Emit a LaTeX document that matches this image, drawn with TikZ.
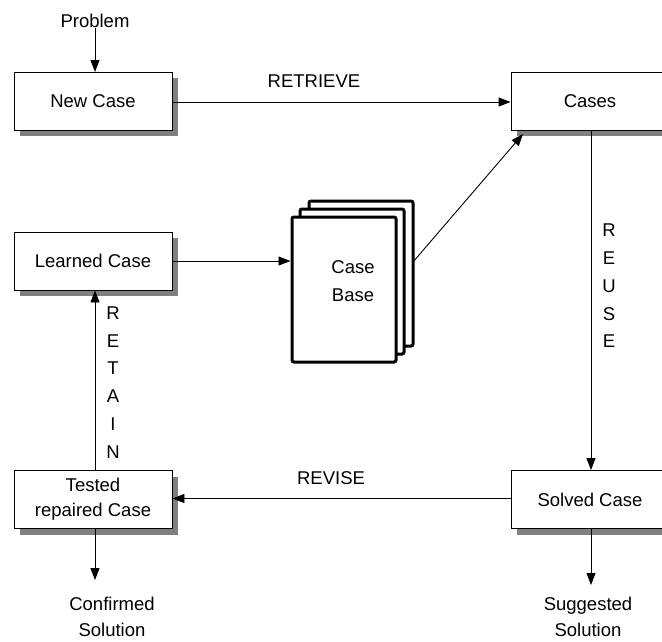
\documentclass[tikz,border=0pt]{standalone}
\usepackage{fontspec}
\setmainfont{Liberation Sans}
\usetikzlibrary{arrows.meta}
\tikzset{
  lbl/.style={font=\fontsize{18.5}{25}\selectfont, inner sep=0pt, align=center},
  casebox/.style={draw, line width=0.9pt, fill=white, minimum width=158pt, minimum height=58pt,
    inner sep=0pt, align=center, font=\fontsize{18.5}{25}\selectfont},
  boxshadow/.style={fill=black!50, draw=none},
  sheet/.style={draw, line width=3pt, fill=white, rounded corners=2pt},
  flow/.style={line width=0.9pt, -{Triangle[length=12pt,width=9pt]}},
  vletters/.style={font=\fontsize{18.5}{27.8}\selectfont, inner sep=0pt, align=center}
}
\begin{document}
\begin{tikzpicture}[x=1pt,y=-1pt]
\useasboundingbox (0,0) rectangle (662,641);
\clip (0,0) rectangle (662,641);

% drop shadows of the process boxes
\foreach \cx/\cy in {93/101, 590/101, 93/261, 93/499.5, 590/499.5}
  \fill[boxshadow] (\cx-79+6,\cy-29+6) rectangle (\cx+79+6,\cy+29+6);

% process boxes
\node[casebox] (newcase) at (93,101) {New Case};
\node[casebox] (cases)   at (590,101) {Cases};
\node[casebox] (learned) at (93,261) {Learned Case};
\node[casebox] (tested)  at (93,499.5) {Tested\\repaired Case};
\node[casebox] (solved)  at (590,499.5) {Solved Case};

% the case base: a stack of three sheets
\node[sheet, minimum width=104pt, minimum height=145pt, inner sep=0pt] (back) at (361,273.5) {};
\node[sheet, minimum width=104pt, minimum height=145pt, inner sep=0pt] (middle) at (352,281.5) {};
\node[sheet, minimum width=104pt, minimum height=145pt, inner sep=0pt] (front) at (344,289.5) {};
\node[lbl, align=center, font=\fontsize{18.5}{28}\selectfont] (cbtext) at (353,281) {Case\\Base};

% free ends and attachment points
\node[lbl] (problem) at (95,21) {Problem};
\coordinate (newin) at (95,72);
\coordinate (cbout) at (413,262);
\coordinate (casesin) at (523,134);
\coordinate (confend) at (95,580);
\coordinate (suggend) at (591,585);

% connectors
\draw[flow] (problem.south) -- (newin);
\draw[flow] (newcase.east |- 0,102) -- (cases.west |- 0,102);
\draw[flow] (cbout) -- (casesin);
\draw[flow] (learned.east) -- (front.west |- learned.east);
\draw[flow] (cases.south -| 591,0) -- (solved.north -| 591,0);
\draw[flow] (solved.west |- 0,498.5) -- (tested.east |- 0,498.5);
\draw[flow] (tested.north -| 95,0) -- (learned.south -| 95,0);
\draw[flow] (tested.south -| 95,0) -- (confend);
\draw[flow] (solved.south -| 591,0) -- (suggend);

% connector labels
\node[lbl] (retrieve) at (314,81.5) {RETRIEVE};
\node[lbl] (revise) at (331,478.5) {REVISE};
\node[vletters] (reuse) at (609,286) {R\\E\\U\\S\\E};
\node[vletters] (retain) at (113,382.5) {R\\E\\T\\A\\I\\N};

% outputs
\node[lbl, font=\fontsize{18.5}{26}\selectfont] (confirmed) at (112,617) {Confirmed\\Solution};
\node[lbl, font=\fontsize{18.5}{26}\selectfont] (suggested) at (588,617) {Suggested\\Solution};
\end{tikzpicture}
\end{document}
